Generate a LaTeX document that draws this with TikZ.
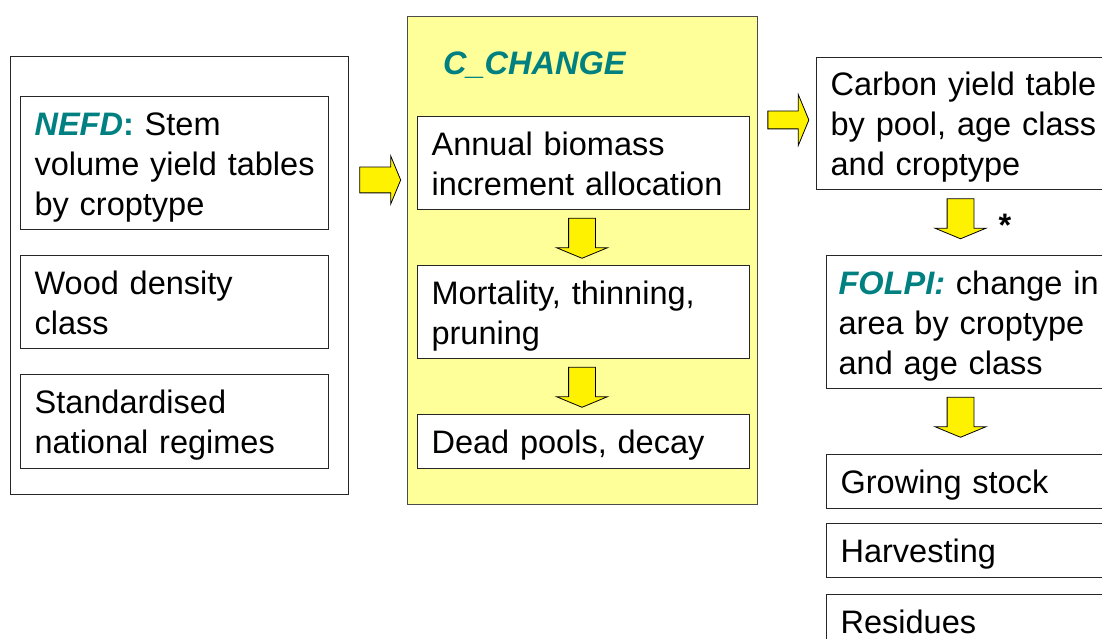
\documentclass[tikz,border=0pt]{standalone}
\usepackage{fontspec}
\setmainfont{Liberation Sans}
\usetikzlibrary{shapes.arrows}

\definecolor{boxteal}{HTML}{008080}
\definecolor{palebox}{HTML}{FFFF99}

\newcommand{\topstrut}{\rule{0pt}{36pt}}
\newcommand{\botstrut}{\rule[-12pt]{0pt}{12pt}}
\tikzset{
  txt/.style={font=\fontsize{32.5}{40}\selectfont},
  box/.style={txt, draw=black!85, line width=1.2pt, fill=white, anchor=north west,
    inner xsep=14pt, inner ysep=0pt, align=left,
    execute at begin node=\topstrut, execute at end node=\botstrut},
  blockarrow/.style={single arrow, draw=black, line width=0.8pt, fill=yellow,
    single arrow tip angle=135, single arrow head indent=0pt},
  rarrow/.style={blockarrow, shape border rotate=0},
  darrow/.style={blockarrow, shape border rotate=270, minimum height=40pt,
    inner sep=13pt, single arrow head extend=12pt}
}
\newcommand{\modname}[1]{\textcolor{boxteal}{\bfseries\itshape #1}}

\begin{document}
\begin{tikzpicture}[x=1pt, y=-1pt]
  \useasboundingbox (0,0) rectangle (1102,639);
  \clip (0,0) rectangle (1102,639);

  % input data
  \node[box, minimum width=338pt, minimum height=438pt, text width=310pt] (inputs) at (10,56) {};
  \node[box, minimum height=133pt, text width=280pt] (nefd) at (20,96)
    {\modname{NEFD}\textcolor{boxteal}{\bfseries:} Stem\\volume yield tables\\by croptype};
  \node[box, minimum height=93pt, text width=280pt] (wood) at (20,255)
    {Wood density\\class};
  \node[box, minimum height=94pt, text width=280pt] (regimes) at (20,374)
    {Standardised\\national regimes};

  \node[rarrow, minimum height=41pt, inner sep=12.5pt, single arrow head extend=11pt] (arr1) at (377.5,180) {};

  % C_CHANGE model
  \node[box, fill=palebox, draw=black!70, minimum height=488pt, text width=322pt] (cchange) at (407,16) {};
  \node[txt, anchor=west, inner sep=0pt] (title) at (443,65) {\modname{C\_CHANGE}};
  \node[box, minimum height=93pt, text width=304pt] (annual) at (417,116)
    {Annual biomass\\increment allocation};
  \node[darrow] (arr2) at (582,235.5) {};
  \node[box, minimum height=93pt, text width=304pt] (mortality) at (417,265)
    {Mortality, thinning,\\pruning};
  \node[darrow] (arr3) at (582,384.5) {};
  \node[box, minimum height=54pt, text width=304pt] (dead) at (417,414)
    {Dead pools, decay};

  \node[rarrow, minimum height=41pt, inner sep=8.5pt, single arrow head extend=16.5pt] (arr4) at (786.5,120) {};

  % outputs
  \node[box, minimum height=132pt, text width=282pt] (carbon) at (816,57)
    {Carbon yield table\\by pool, age class\\and croptype};
  \node[darrow] (arr5) at (960.5,216) {};
  \node[txt, inner sep=0pt] (star) at (1005,225) {\bfseries *};
  \node[box, minimum height=133pt, text width=272pt, inner xsep=12pt] (folpi) at (826,255)
    {\modname{FOLPI:} change in\\area by croptype\\and age class};
  \node[darrow] (arr6) at (960.5,414.5) {};
  \node[box, minimum height=54pt, text width=272pt] (growing) at (826,454) {Growing stock};
  \node[box, minimum height=54pt, text width=272pt] (harvest) at (826,523) {Harvesting};
  \node[box, minimum height=54pt, text width=272pt] (residues) at (826,594) {Residues};
\end{tikzpicture}
\end{document}
